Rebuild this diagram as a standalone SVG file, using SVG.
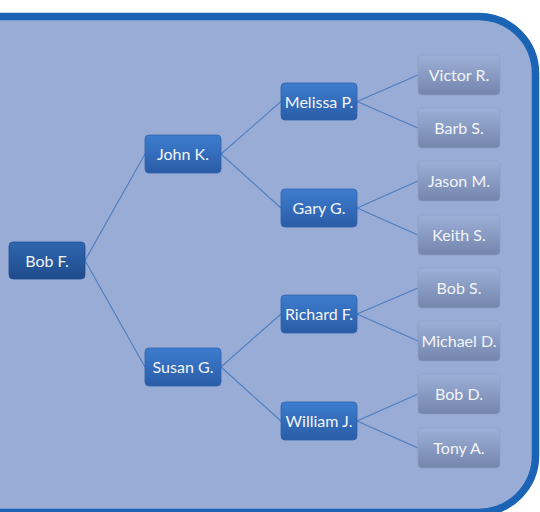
<svg xmlns="http://www.w3.org/2000/svg" width="540" height="512" viewBox="0 0 540 512">
<defs>
<linearGradient id="gBlue" x1="0" y1="0" x2="0" y2="1">
<stop offset="0" stop-color="#3d7dcf"/>
<stop offset="1" stop-color="#2a5ca6"/>
</linearGradient>
<linearGradient id="gRoot" x1="0" y1="0" x2="0" y2="1">
<stop offset="0" stop-color="#2f67b0"/>
<stop offset="1" stop-color="#1f4b8c"/>
</linearGradient>
<linearGradient id="gGray" x1="0" y1="0" x2="0" y2="1">
<stop offset="0" stop-color="#9db0d8"/>
<stop offset="1" stop-color="#7385ab"/>
</linearGradient>
<style>
.blue{fill:url(#gBlue);stroke:#2e63ad;stroke-width:0.8}
.root{fill:url(#gRoot);stroke:#234f92;stroke-width:0.8}
.gray{fill:url(#gGray);stroke:#8b9dc4;stroke-width:0.6}
.t{font-family:Lato,"Open Sans","Liberation Sans",sans-serif;font-size:16px;fill:#f2f4f8;text-anchor:middle}
.c line{stroke:#4d7dc0;stroke-width:1.1}
</style>
</defs>
<rect x="0" y="0" width="540" height="512" fill="#ffffff"/>
<rect x="-120" y="16.5" width="655.5" height="496" rx="57" ry="57" fill="#98acd6" stroke="#1b63b4" stroke-width="7.5"/>
<g id="connectors" class="c">
<line x1="85" y1="260.5" x2="145" y2="154"/>
<line x1="85" y1="260.5" x2="145" y2="367"/>
<line x1="221" y1="154" x2="281" y2="101.5"/>
<line x1="221" y1="154" x2="281" y2="208"/>
<line x1="221" y1="367" x2="281" y2="314"/>
<line x1="221" y1="367" x2="281" y2="421"/>
<line x1="357" y1="101.5" x2="418" y2="75"/>
<line x1="357" y1="101.5" x2="418" y2="128"/>
<line x1="357" y1="208" x2="418" y2="181"/>
<line x1="357" y1="208" x2="418" y2="235"/>
<line x1="357" y1="314" x2="418" y2="288"/>
<line x1="357" y1="314" x2="418" y2="341"/>
<line x1="357" y1="421" x2="418" y2="394"/>
<line x1="357" y1="421" x2="418" y2="448"/>
</g>
<g id="bobF"><rect class="root" x="9" y="242" width="76" height="37" rx="4"/><text class="t" x="47" y="266.5">Bob F.</text></g>
<g id="johnK"><rect class="blue" x="145" y="135" width="76" height="38" rx="4"/><text class="t" x="183" y="160">John K.</text></g>
<g id="susanG"><rect class="blue" x="145" y="348" width="76" height="38" rx="4"/><text class="t" x="183" y="373">Susan G.</text></g>
<g id="melissaP"><rect class="blue" x="281" y="83" width="76" height="37" rx="4"/><text class="t" x="319" y="107.5">Melissa P.</text></g>
<g id="garyG"><rect class="blue" x="281" y="189" width="76" height="38" rx="4"/><text class="t" x="319" y="214">Gary G.</text></g>
<g id="richardF"><rect class="blue" x="281" y="295" width="76" height="38" rx="4"/><text class="t" x="319" y="320">Richard F.</text></g>
<g id="williamJ"><rect class="blue" x="281" y="402" width="76" height="38" rx="4"/><text class="t" x="319" y="427">William J.</text></g>
<g id="victorR"><rect class="gray" x="418" y="55" width="82" height="40" rx="4"/><text class="t" x="459" y="80.5">Victor R.</text></g>
<g id="barbS"><rect class="gray" x="418" y="108" width="82" height="40" rx="4"/><text class="t" x="459" y="133.5">Barb S.</text></g>
<g id="jasonM"><rect class="gray" x="418" y="161" width="82" height="40" rx="4"/><text class="t" x="459" y="186.5">Jason M.</text></g>
<g id="keithS"><rect class="gray" x="418" y="215" width="82" height="40" rx="4"/><text class="t" x="459" y="240.5">Keith S.</text></g>
<g id="bobS"><rect class="gray" x="418" y="268" width="82" height="40" rx="4"/><text class="t" x="459" y="293.5">Bob S.</text></g>
<g id="michaelD"><rect class="gray" x="418" y="321" width="82" height="40" rx="4"/><text class="t" x="459" y="346.5">Michael D.</text></g>
<g id="bobD"><rect class="gray" x="418" y="374" width="82" height="40" rx="4"/><text class="t" x="459" y="399.5">Bob D.</text></g>
<g id="tonyA"><rect class="gray" x="418" y="428" width="82" height="40" rx="4"/><text class="t" x="459" y="453.5">Tony A.</text></g>
</svg>
